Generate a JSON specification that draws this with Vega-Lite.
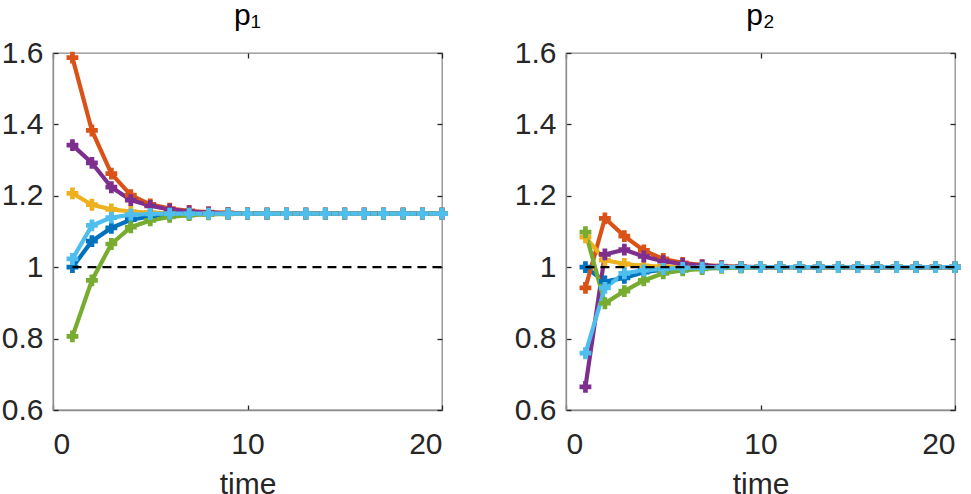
{
  "$schema": "https://vega.github.io/schema/vega-lite/v6.json",
  "padding": {"left": 0, "top": 0, "right": 0, "bottom": 0},
  "background": "white",
  "config": {
    "font": "Liberation Sans",
    "view": {"stroke": "#8c8c8c", "strokeWidth": 1.3},
    "axis": {
      "grid": false,
      "labelFont": "Liberation Sans",
      "labelFontSize": 30,
      "labelColor": "#262626",
      "titleFont": "Liberation Sans",
      "titleFontSize": 30,
      "titleFontWeight": "normal",
      "titleColor": "#262626",
      "domainColor": "#8c8c8c",
      "domainWidth": 1.3,
      "tickColor": "#262626",
      "tickWidth": 1.3,
      "tickSize": -5
    },
    "title": {"font": "Liberation Sans", "fontSize": 30, "fontWeight": "normal", "color": "#000000"}
  },
  "datasets": {
    "ref": [{"t0": 1, "t1": 20, "y": 1}],
    "traj": [
      {"p":"p1","s":"s1","t":1,"v":1.0},{"p":"p1","s":"s1","t":2,"v":1.073},{"p":"p1","s":"s1","t":3,"v":1.110},{"p":"p1","s":"s1","t":4,"v":1.133},{"p":"p1","s":"s1","t":5,"v":1.142},{"p":"p1","s":"s1","t":6,"v":1.147},{"p":"p1","s":"s1","t":7,"v":1.149},{"p":"p1","s":"s1","t":8,"v":1.15},{"p":"p1","s":"s1","t":9,"v":1.15},{"p":"p1","s":"s1","t":10,"v":1.15},{"p":"p1","s":"s1","t":11,"v":1.15},{"p":"p1","s":"s1","t":12,"v":1.15},{"p":"p1","s":"s1","t":13,"v":1.15},{"p":"p1","s":"s1","t":14,"v":1.15},{"p":"p1","s":"s1","t":15,"v":1.15},{"p":"p1","s":"s1","t":16,"v":1.15},{"p":"p1","s":"s1","t":17,"v":1.15},{"p":"p1","s":"s1","t":18,"v":1.15},{"p":"p1","s":"s1","t":19,"v":1.15},{"p":"p1","s":"s1","t":20,"v":1.15},
      {"p":"p1","s":"s2","t":1,"v":1.587},{"p":"p1","s":"s2","t":2,"v":1.383},{"p":"p1","s":"s2","t":3,"v":1.262},{"p":"p1","s":"s2","t":4,"v":1.202},{"p":"p1","s":"s2","t":5,"v":1.176},{"p":"p1","s":"s2","t":6,"v":1.164},{"p":"p1","s":"s2","t":7,"v":1.158},{"p":"p1","s":"s2","t":8,"v":1.154},{"p":"p1","s":"s2","t":9,"v":1.152},{"p":"p1","s":"s2","t":10,"v":1.151},{"p":"p1","s":"s2","t":11,"v":1.15},{"p":"p1","s":"s2","t":12,"v":1.15},{"p":"p1","s":"s2","t":13,"v":1.15},{"p":"p1","s":"s2","t":14,"v":1.15},{"p":"p1","s":"s2","t":15,"v":1.15},{"p":"p1","s":"s2","t":16,"v":1.15},{"p":"p1","s":"s2","t":17,"v":1.15},{"p":"p1","s":"s2","t":18,"v":1.15},{"p":"p1","s":"s2","t":19,"v":1.15},{"p":"p1","s":"s2","t":20,"v":1.15},
      {"p":"p1","s":"s3","t":1,"v":1.207},{"p":"p1","s":"s3","t":2,"v":1.175},{"p":"p1","s":"s3","t":3,"v":1.162},{"p":"p1","s":"s3","t":4,"v":1.156},{"p":"p1","s":"s3","t":5,"v":1.153},{"p":"p1","s":"s3","t":6,"v":1.151},{"p":"p1","s":"s3","t":7,"v":1.15},{"p":"p1","s":"s3","t":8,"v":1.15},{"p":"p1","s":"s3","t":9,"v":1.15},{"p":"p1","s":"s3","t":10,"v":1.15},{"p":"p1","s":"s3","t":11,"v":1.15},{"p":"p1","s":"s3","t":12,"v":1.15},{"p":"p1","s":"s3","t":13,"v":1.15},{"p":"p1","s":"s3","t":14,"v":1.15},{"p":"p1","s":"s3","t":15,"v":1.15},{"p":"p1","s":"s3","t":16,"v":1.15},{"p":"p1","s":"s3","t":17,"v":1.15},{"p":"p1","s":"s3","t":18,"v":1.15},{"p":"p1","s":"s3","t":19,"v":1.15},{"p":"p1","s":"s3","t":20,"v":1.15},
      {"p":"p1","s":"s4","t":1,"v":1.342},{"p":"p1","s":"s4","t":2,"v":1.292},{"p":"p1","s":"s4","t":3,"v":1.224},{"p":"p1","s":"s4","t":4,"v":1.188},{"p":"p1","s":"s4","t":5,"v":1.172},{"p":"p1","s":"s4","t":6,"v":1.162},{"p":"p1","s":"s4","t":7,"v":1.156},{"p":"p1","s":"s4","t":8,"v":1.153},{"p":"p1","s":"s4","t":9,"v":1.151},{"p":"p1","s":"s4","t":10,"v":1.15},{"p":"p1","s":"s4","t":11,"v":1.15},{"p":"p1","s":"s4","t":12,"v":1.15},{"p":"p1","s":"s4","t":13,"v":1.15},{"p":"p1","s":"s4","t":14,"v":1.15},{"p":"p1","s":"s4","t":15,"v":1.15},{"p":"p1","s":"s4","t":16,"v":1.15},{"p":"p1","s":"s4","t":17,"v":1.15},{"p":"p1","s":"s4","t":18,"v":1.15},{"p":"p1","s":"s4","t":19,"v":1.15},{"p":"p1","s":"s4","t":20,"v":1.15},
      {"p":"p1","s":"s5","t":1,"v":0.806},{"p":"p1","s":"s5","t":2,"v":0.963},{"p":"p1","s":"s5","t":3,"v":1.065},{"p":"p1","s":"s5","t":4,"v":1.112},{"p":"p1","s":"s5","t":5,"v":1.131},{"p":"p1","s":"s5","t":6,"v":1.141},{"p":"p1","s":"s5","t":7,"v":1.146},{"p":"p1","s":"s5","t":8,"v":1.148},{"p":"p1","s":"s5","t":9,"v":1.149},{"p":"p1","s":"s5","t":10,"v":1.15},{"p":"p1","s":"s5","t":11,"v":1.15},{"p":"p1","s":"s5","t":12,"v":1.15},{"p":"p1","s":"s5","t":13,"v":1.15},{"p":"p1","s":"s5","t":14,"v":1.15},{"p":"p1","s":"s5","t":15,"v":1.15},{"p":"p1","s":"s5","t":16,"v":1.15},{"p":"p1","s":"s5","t":17,"v":1.15},{"p":"p1","s":"s5","t":18,"v":1.15},{"p":"p1","s":"s5","t":19,"v":1.15},{"p":"p1","s":"s5","t":20,"v":1.15},
      {"p":"p1","s":"s6","t":1,"v":1.023},{"p":"p1","s":"s6","t":2,"v":1.117},{"p":"p1","s":"s6","t":3,"v":1.139},{"p":"p1","s":"s6","t":4,"v":1.147},{"p":"p1","s":"s6","t":5,"v":1.149},{"p":"p1","s":"s6","t":6,"v":1.15},{"p":"p1","s":"s6","t":7,"v":1.15},{"p":"p1","s":"s6","t":8,"v":1.15},{"p":"p1","s":"s6","t":9,"v":1.15},{"p":"p1","s":"s6","t":10,"v":1.15},{"p":"p1","s":"s6","t":11,"v":1.15},{"p":"p1","s":"s6","t":12,"v":1.15},{"p":"p1","s":"s6","t":13,"v":1.15},{"p":"p1","s":"s6","t":14,"v":1.15},{"p":"p1","s":"s6","t":15,"v":1.15},{"p":"p1","s":"s6","t":16,"v":1.15},{"p":"p1","s":"s6","t":17,"v":1.15},{"p":"p1","s":"s6","t":18,"v":1.15},{"p":"p1","s":"s6","t":19,"v":1.15},{"p":"p1","s":"s6","t":20,"v":1.15},
      {"p":"p2","s":"s1","t":1,"v":1.0},{"p":"p2","s":"s1","t":2,"v":0.96},{"p":"p2","s":"s1","t":3,"v":0.970},{"p":"p2","s":"s1","t":4,"v":0.986},{"p":"p2","s":"s1","t":5,"v":0.993},{"p":"p2","s":"s1","t":6,"v":0.997},{"p":"p2","s":"s1","t":7,"v":0.999},{"p":"p2","s":"s1","t":8,"v":1.0},{"p":"p2","s":"s1","t":9,"v":1.0},{"p":"p2","s":"s1","t":10,"v":1.0},{"p":"p2","s":"s1","t":11,"v":1.0},{"p":"p2","s":"s1","t":12,"v":1.0},{"p":"p2","s":"s1","t":13,"v":1.0},{"p":"p2","s":"s1","t":14,"v":1.0},{"p":"p2","s":"s1","t":15,"v":1.0},{"p":"p2","s":"s1","t":16,"v":1.0},{"p":"p2","s":"s1","t":17,"v":1.0},{"p":"p2","s":"s1","t":18,"v":1.0},{"p":"p2","s":"s1","t":19,"v":1.0},{"p":"p2","s":"s1","t":20,"v":1.0},
      {"p":"p2","s":"s2","t":1,"v":0.942},{"p":"p2","s":"s2","t":2,"v":1.137},{"p":"p2","s":"s2","t":3,"v":1.087},{"p":"p2","s":"s2","t":4,"v":1.047},{"p":"p2","s":"s2","t":5,"v":1.023},{"p":"p2","s":"s2","t":6,"v":1.012},{"p":"p2","s":"s2","t":7,"v":1.006},{"p":"p2","s":"s2","t":8,"v":1.003},{"p":"p2","s":"s2","t":9,"v":1.001},{"p":"p2","s":"s2","t":10,"v":1.0},{"p":"p2","s":"s2","t":11,"v":1.0},{"p":"p2","s":"s2","t":12,"v":1.0},{"p":"p2","s":"s2","t":13,"v":1.0},{"p":"p2","s":"s2","t":14,"v":1.0},{"p":"p2","s":"s2","t":15,"v":1.0},{"p":"p2","s":"s2","t":16,"v":1.0},{"p":"p2","s":"s2","t":17,"v":1.0},{"p":"p2","s":"s2","t":18,"v":1.0},{"p":"p2","s":"s2","t":19,"v":1.0},{"p":"p2","s":"s2","t":20,"v":1.0},
      {"p":"p2","s":"s3","t":1,"v":1.084},{"p":"p2","s":"s3","t":2,"v":1.02},{"p":"p2","s":"s3","t":3,"v":1.009},{"p":"p2","s":"s3","t":4,"v":1.004},{"p":"p2","s":"s3","t":5,"v":1.002},{"p":"p2","s":"s3","t":6,"v":1.001},{"p":"p2","s":"s3","t":7,"v":1.0},{"p":"p2","s":"s3","t":8,"v":1.0},{"p":"p2","s":"s3","t":9,"v":1.0},{"p":"p2","s":"s3","t":10,"v":1.0},{"p":"p2","s":"s3","t":11,"v":1.0},{"p":"p2","s":"s3","t":12,"v":1.0},{"p":"p2","s":"s3","t":13,"v":1.0},{"p":"p2","s":"s3","t":14,"v":1.0},{"p":"p2","s":"s3","t":15,"v":1.0},{"p":"p2","s":"s3","t":16,"v":1.0},{"p":"p2","s":"s3","t":17,"v":1.0},{"p":"p2","s":"s3","t":18,"v":1.0},{"p":"p2","s":"s3","t":19,"v":1.0},{"p":"p2","s":"s3","t":20,"v":1.0},
      {"p":"p2","s":"s4","t":1,"v":0.665},{"p":"p2","s":"s4","t":2,"v":1.036},{"p":"p2","s":"s4","t":3,"v":1.049},{"p":"p2","s":"s4","t":4,"v":1.030},{"p":"p2","s":"s4","t":5,"v":1.017},{"p":"p2","s":"s4","t":6,"v":1.009},{"p":"p2","s":"s4","t":7,"v":1.005},{"p":"p2","s":"s4","t":8,"v":1.002},{"p":"p2","s":"s4","t":9,"v":1.001},{"p":"p2","s":"s4","t":10,"v":1.0},{"p":"p2","s":"s4","t":11,"v":1.0},{"p":"p2","s":"s4","t":12,"v":1.0},{"p":"p2","s":"s4","t":13,"v":1.0},{"p":"p2","s":"s4","t":14,"v":1.0},{"p":"p2","s":"s4","t":15,"v":1.0},{"p":"p2","s":"s4","t":16,"v":1.0},{"p":"p2","s":"s4","t":17,"v":1.0},{"p":"p2","s":"s4","t":18,"v":1.0},{"p":"p2","s":"s4","t":19,"v":1.0},{"p":"p2","s":"s4","t":20,"v":1.0},
      {"p":"p2","s":"s5","t":1,"v":1.098},{"p":"p2","s":"s5","t":2,"v":0.899},{"p":"p2","s":"s5","t":3,"v":0.933},{"p":"p2","s":"s5","t":4,"v":0.963},{"p":"p2","s":"s5","t":5,"v":0.983},{"p":"p2","s":"s5","t":6,"v":0.991},{"p":"p2","s":"s5","t":7,"v":0.995},{"p":"p2","s":"s5","t":8,"v":0.998},{"p":"p2","s":"s5","t":9,"v":0.999},{"p":"p2","s":"s5","t":10,"v":1.0},{"p":"p2","s":"s5","t":11,"v":1.0},{"p":"p2","s":"s5","t":12,"v":1.0},{"p":"p2","s":"s5","t":13,"v":1.0},{"p":"p2","s":"s5","t":14,"v":1.0},{"p":"p2","s":"s5","t":15,"v":1.0},{"p":"p2","s":"s5","t":16,"v":1.0},{"p":"p2","s":"s5","t":17,"v":1.0},{"p":"p2","s":"s5","t":18,"v":1.0},{"p":"p2","s":"s5","t":19,"v":1.0},{"p":"p2","s":"s5","t":20,"v":1.0},
      {"p":"p2","s":"s6","t":1,"v":0.759},{"p":"p2","s":"s6","t":2,"v":0.942},{"p":"p2","s":"s6","t":3,"v":0.983},{"p":"p2","s":"s6","t":4,"v":0.991},{"p":"p2","s":"s6","t":5,"v":0.995},{"p":"p2","s":"s6","t":6,"v":0.998},{"p":"p2","s":"s6","t":7,"v":0.999},{"p":"p2","s":"s6","t":8,"v":1.0},{"p":"p2","s":"s6","t":9,"v":1.0},{"p":"p2","s":"s6","t":10,"v":1.0},{"p":"p2","s":"s6","t":11,"v":1.0},{"p":"p2","s":"s6","t":12,"v":1.0},{"p":"p2","s":"s6","t":13,"v":1.0},{"p":"p2","s":"s6","t":14,"v":1.0},{"p":"p2","s":"s6","t":15,"v":1.0},{"p":"p2","s":"s6","t":16,"v":1.0},{"p":"p2","s":"s6","t":17,"v":1.0},{"p":"p2","s":"s6","t":18,"v":1.0},{"p":"p2","s":"s6","t":19,"v":1.0},{"p":"p2","s":"s6","t":20,"v":1.0}
    ]
  },
  "bounds": "flush",
  "spacing": 124,
  "hconcat": [
    {
      "width": 389, "height": 357,
      "title": {"text": "p₁", "offset": 7, "fontSize": 30, "font": "Liberation Sans", "fontWeight": "normal", "color": "#000000"},
      "layer": [
        {
          "data": {"name": "traj"},
          "transform": [{"filter": "datum.p === 'p1'"}],
          "mark": {"type": "line", "strokeWidth": 4.2},
          "encoding": {
            "x": {"field": "t", "type": "quantitative", "scale": {"domain": [0, 20]}, "axis": {"values": [0, 10, 20], "title": "time", "labelPadding": 24, "titlePadding": 10}},
            "y": {"field": "v", "type": "quantitative", "scale": {"domain": [0.6, 1.6]}, "axis": {"values": [0.6, 0.8, 1, 1.2, 1.4, 1.6], "format": "~g", "title": null, "labelPadding": 15}},
            "color": {"field": "s", "type": "nominal", "legend": null, "scale": {"domain": ["s1","s2","s3","s4","s5","s6"], "range": ["#0072BD","#D95319","#EDB120","#7E2F8E","#77AC30","#4DBEEE"]}}
          }
        },
        {
          "data": {"name": "traj"},
          "transform": [{"filter": "datum.p === 'p1'"}],
          "mark": {"type": "point", "shape": "cross", "filled": true, "size": 140, "opacity": 1},
          "encoding": {
            "x": {"field": "t", "type": "quantitative", "axis": null},
            "y": {"field": "v", "type": "quantitative", "axis": null},
            "color": {"field": "s", "type": "nominal", "legend": null}
          }
        },
        {
          "data": {"name": "ref"},
          "mark": {"type": "rule", "strokeDash": [9, 6], "strokeWidth": 2.2, "color": "#000000"},
          "encoding": {
            "x": {"field": "t0", "type": "quantitative", "axis": {"orient": "top", "values": [0, 10, 20], "labels": false, "domain": false, "title": null}},
            "x2": {"field": "t1"},
            "y": {"field": "y", "type": "quantitative", "axis": {"orient": "right", "values": [0.6, 0.8, 1, 1.2, 1.4, 1.6], "labels": false, "domain": false, "title": null}}
          }
        }
      ],
      "resolve": {"axis": {"x": "independent", "y": "independent"}}
    },
    {
      "width": 389, "height": 357,
      "title": {"text": "p₂", "offset": 7, "fontSize": 30, "font": "Liberation Sans", "fontWeight": "normal", "color": "#000000"},
      "layer": [
        {
          "data": {"name": "traj"},
          "transform": [{"filter": "datum.p === 'p2'"}],
          "mark": {"type": "line", "strokeWidth": 4.2},
          "encoding": {
            "x": {"field": "t", "type": "quantitative", "scale": {"domain": [0, 20]}, "axis": {"values": [0, 10, 20], "title": "time", "labelPadding": 24, "titlePadding": 10}},
            "y": {"field": "v", "type": "quantitative", "scale": {"domain": [0.6, 1.6]}, "axis": {"values": [0.6, 0.8, 1, 1.2, 1.4, 1.6], "format": "~g", "title": null, "labelPadding": 15}},
            "color": {"field": "s", "type": "nominal", "legend": null, "scale": {"domain": ["s1","s2","s3","s4","s5","s6"], "range": ["#0072BD","#D95319","#EDB120","#7E2F8E","#77AC30","#4DBEEE"]}}
          }
        },
        {
          "data": {"name": "traj"},
          "transform": [{"filter": "datum.p === 'p2'"}],
          "mark": {"type": "point", "shape": "cross", "filled": true, "size": 140, "opacity": 1},
          "encoding": {
            "x": {"field": "t", "type": "quantitative", "axis": null},
            "y": {"field": "v", "type": "quantitative", "axis": null},
            "color": {"field": "s", "type": "nominal", "legend": null}
          }
        },
        {
          "data": {"name": "ref"},
          "mark": {"type": "rule", "strokeDash": [9, 6], "strokeWidth": 2.2, "color": "#000000"},
          "encoding": {
            "x": {"field": "t0", "type": "quantitative", "axis": {"orient": "top", "values": [0, 10, 20], "labels": false, "domain": false, "title": null}},
            "x2": {"field": "t1"},
            "y": {"field": "y", "type": "quantitative", "axis": {"orient": "right", "values": [0.6, 0.8, 1, 1.2, 1.4, 1.6], "labels": false, "domain": false, "title": null}}
          }
        }
      ],
      "resolve": {"axis": {"x": "independent", "y": "independent"}}
    }
  ]
}
